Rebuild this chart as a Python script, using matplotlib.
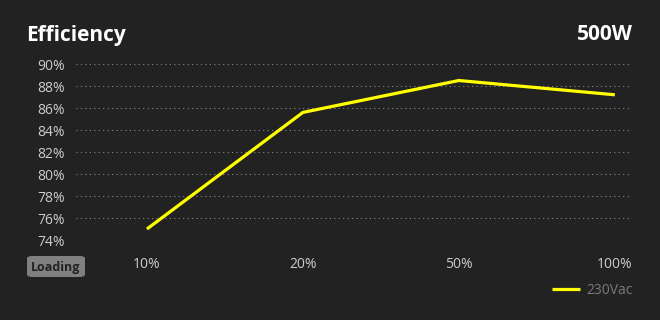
import matplotlib
matplotlib.use("Agg")
import matplotlib.pyplot as plt
from matplotlib.patches import FancyBboxPatch

loadLabels = ["10%", "20%", "50%", "100%"]
efficiency230 = [75.0, 85.6, 88.5, 87.2]
yTicks = [74, 76, 78, 80, 82, 84, 86, 88, 90]

BG = "#222222"
plt.rcParams['font.family'] = ['Open Sans', 'DejaVu Sans']

fig = plt.figure(figsize=(6.6, 3.2), dpi=100, facecolor=BG)
ax = fig.add_axes([76 / 660, 1 - 240 / 320, (632 - 76) / 660, (240 - 64) / 320])
ax.set_facecolor(BG)

xs = list(range(len(loadLabels)))
ax.plot(xs, efficiency230, color="#ffff00", lw=2.3, solid_capstyle="butt", label="230Vac")

ax.set_xlim(-0.455, 3.11)
ax.set_ylim(74, 90)
ax.set_yticks(yTicks)
ax.set_yticklabels([f"{v}%" for v in yTicks])
ax.set_xticks(xs)
ax.set_xticklabels(loadLabels)
ax.grid(axis="y", color="#888888", linestyle=(0, (1, 3)), lw=0.8)
ax.tick_params(length=0, colors="#cccccc", labelsize=10)
ax.tick_params(axis="y", pad=8)
ax.tick_params(axis="x", pad=12)
for s in ax.spines.values():
    s.set_visible(False)

fig.text(26 / 660, 1 - 35 / 320, "Efficiency", color="white", fontsize=15,
         fontweight="bold", va="center", ha="left")
fig.text(633 / 660, 1 - 35 / 320, "500W", color="white", fontsize=15,
         fontweight="bold", va="center", ha="right")

box = FancyBboxPatch((27 / 660, 1 - 277 / 320), 58 / 660, 21 / 320,
                     boxstyle="round,pad=0,rounding_size=0.008",
                     transform=fig.transFigure, facecolor="#808080", edgecolor="none")
fig.patches.append(box)
fig.text(56 / 660, 1 - 267 / 320, "Loading", color="#222222", fontsize=9,
         fontweight="bold", va="center", ha="center")

leg = ax.legend(loc="lower right", bbox_to_anchor=(640 / 660, 1 - 305 / 320),
                bbox_transform=fig.transFigure, frameon=False, fontsize=10,
                handlelength=2.0, handletextpad=0.5, borderpad=0)
for t in leg.get_texts():
    t.set_color("#7a7a7a")

fig.savefig("out.png", dpi=100, facecolor=BG)
